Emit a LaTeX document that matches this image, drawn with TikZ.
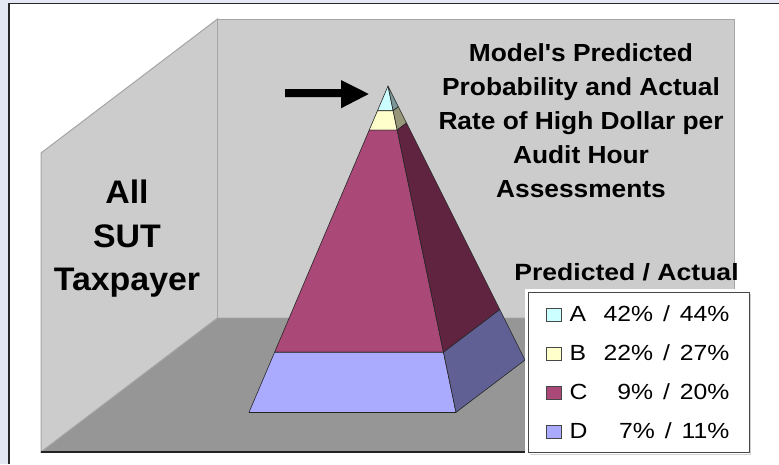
\documentclass[tikz,border=0pt]{standalone}
\usepackage{fontspec}
\setmainfont{Liberation Sans}
\newfontfamily\titlefont[FakeStretch=1.065]{Liberation Sans}
\newfontfamily\sidefont[FakeStretch=1.04]{Liberation Sans}
\newfontfamily\headfont[FakeStretch=1.13]{Liberation Sans}
\newfontfamily\legfont[FakeStretch=1.13]{Liberation Sans}
\usetikzlibrary{calc}
\definecolor{bgband}{RGB}{227,232,242}
\definecolor{framecol}{RGB}{40,40,40}
\definecolor{wallfill}{RGB}{204,204,204}
\definecolor{walledge}{RGB}{165,165,165}
\definecolor{floorfill}{RGB}{150,150,150}
\definecolor{floorfront}{RGB}{35,35,35}
\definecolor{afront}{RGB}{204,255,255}
\definecolor{aside}{RGB}{122,152,152}
\definecolor{bfront}{RGB}{255,255,204}
\definecolor{bside}{RGB}{150,150,120}
\definecolor{cfront}{RGB}{170,73,120}
\definecolor{cside}{RGB}{96,35,64}
\definecolor{dfront}{RGB}{170,170,255}
\definecolor{dside}{RGB}{96,96,148}
\definecolor{legedge}{RGB}{70,70,70}
\newcommand{\pyrlayer}[4]{%
  \filldraw[pyredge, fill=#3] ($(P)!#1!(FL)$) -- ($(P)!#2!(FL)$) -- ($(P)!#2!(FR)$) -- ($(P)!#1!(FR)$) -- cycle;
  \filldraw[pyredge, fill=#4] ($(P)!#1!(FR)$) -- ($(P)!#2!(FR)$) -- ($(P)!#2!(BR)$) -- ($(P)!#1!(BR)$) -- cycle;}
\newcommand{\legsep}{~\kern3pt/\kern3pt~}
\tikzset{
  pyredge/.style={draw=black!85, line width=0.6pt, line join=round},
  wallstyle/.style={fill=wallfill, draw=walledge, line width=1pt},
  titletext/.style={anchor=base, inner sep=0pt, font=\titlefont\bfseries\fontsize{24.7}{30}\selectfont},
  sidetext/.style={anchor=base, inner sep=0pt, font=\sidefont\bfseries\fontsize{32.6}{40}\selectfont},
  headtext/.style={anchor=base, inner sep=0pt, font=\headfont\bfseries\fontsize{23.5}{28}\selectfont},
  legletter/.style={anchor=base west, inner sep=0pt, font=\legfont\fontsize{21.9}{26}\selectfont},
  legnum/.style={anchor=base east, inner sep=0pt, font=\legfont\fontsize{21.9}{26}\selectfont},
  swatch/.style={draw=legedge, line width=0.8pt},
}
\begin{document}
\begin{tikzpicture}[x=1pt,y=-1pt]
\useasboundingbox (0,0) rectangle (779,464);
% background and frame
\fill[bgband] (0,0) rectangle (779,464);
\fill[white] (9,3.5) rectangle (779,464);
\draw[framecol, line width=1.5pt] (9,464) -- (9,3.5) -- (779,3.5);
% walls
\coordinate (lwTL) at (41,153);
\coordinate (lwBL) at (41,452);
\coordinate (bwTL) at (217.5,19);
\coordinate (bwTR) at (734.5,19);
\coordinate (bwBL) at (217.5,318);
\coordinate (bwBR) at (734.5,318);
\coordinate (flFR) at (558,452);
\filldraw[wallstyle] (lwBL) -- (lwTL) -- (bwTL) -- (bwBL) -- cycle;
\filldraw[wallstyle] (bwTL) rectangle (bwBR);
\filldraw[fill=floorfill, draw=walledge, line width=0.8pt] (lwBL) -- (bwBL) -- (bwBR) -- (flFR) -- cycle;
\draw[floorfront, line width=1.3pt] (lwBL) -- (flFR);
% pyramid
\coordinate (P) at (388,86);
\coordinate (FL) at (249,412.3);
\coordinate (FR) at (456,412.3);
\coordinate (BR) at (525,360);
\pyrlayer{0}{0.0758}{afront}{aside}
\pyrlayer{0.0758}{0.135}{bfront}{bside}
\pyrlayer{0.135}{0.816}{cfront}{cside}
\pyrlayer{0.816}{1}{dfront}{dside}
\draw[floorfront, line width=1.3pt] (FL) -- (FR);
% white area behind legend
\fill[white] (525,289) rectangle (779,464);
% arrow
\fill[black] (285,89) -- (341,89) -- (341,80) -- (368.7,94) -- (341,108.3) -- (341,97) -- (285,97) -- cycle;
% title
\node[titletext] (t1) at (581,61.5) {Model's Predicted};
\node[titletext] (t2) at (581,95.5) {Probability and Actual};
\node[titletext] (t3) at (581,129.5) {Rate of High Dollar per};
\node[titletext] (t4) at (581,163.5) {Audit Hour};
\node[titletext] (t5) at (581,197) {Assessments};
% side text
\node[sidetext] (s1) at (127,203.5) {All};
\node[sidetext] (s2) at (127,247) {SUT};
\node[sidetext] (s3) at (127,290.5) {Taxpayer};
% legend
\node[headtext] (lh) at (626.5,280) {Predicted / Actual};
\draw[gray!35, line width=1pt] (750.8,293.5) -- (750.8,454) -- (529.5,454);
\filldraw[fill=white, draw=legedge, line width=1pt] (528.3,292.3) rectangle (749.3,452.5);
\filldraw[swatch, fill=afront] (546,308) rectangle (561.5,321.5);
\node[legletter] (l1) at (569.5,321.5) {A};
\node[legnum] (n1) at (729.5,321.5) {42\%\legsep 44\%};
\filldraw[swatch, fill=bfront] (546,347) rectangle (561.5,360.5);
\node[legletter] (l2) at (569.5,360.5) {B};
\node[legnum] (n2) at (729.5,360.5) {22\%\legsep 27\%};
\filldraw[swatch, fill=cfront] (546,386) rectangle (561.5,399.5);
\node[legletter] (l3) at (569.5,399.5) {C};
\node[legnum] (n3) at (729.5,399.5) {9\%\legsep 20\%};
\filldraw[swatch, fill=dfront] (546,425) rectangle (561.5,438.5);
\node[legletter] (l4) at (569.5,438.5) {D};
\node[legnum] (n4) at (729.5,438.5) {7\%\legsep 11\%};
\end{tikzpicture}
\end{document}
